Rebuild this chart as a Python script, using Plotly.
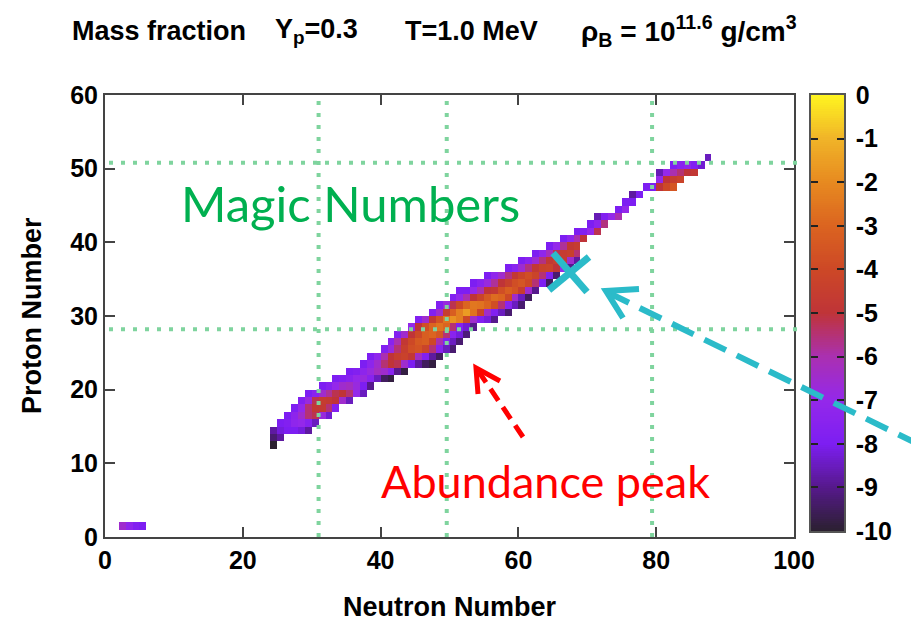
import plotly.graph_objects as go

# ---------------- data (log10 of mass fraction) ----------------
# one entry per proton number Z: first neutron number and values for consecutive N
proton_Z = [1, 12, 13, 14, 15, 16, 17, 18, 19, 20, 21, 22, 23, 24, 25, 26, 27, 28, 29, 30,
            31, 32, 33, 34, 35, 36, 37, 38, 39, 40, 41, 42, 43, 44, 45, 46, 47, 48, 49, 50, 51]
first_N = [2, 24, 24, 24, 25, 26, 27, 28, 29, 31, 33, 35, 37, 38, 40, 41, 42, 44, 45, 47,
           48, 50, 51, 53, 55, 58, 60, 62, 64, 66, 68, 70, 71, 74, 75, 76, 78, 80, 80, 82, 87]
log_X = [
    [-6.5, -7.2, -7.8, -8.0],
    [-10.0],
    [-9.3, -8.8],
    [-8.8, -8.2, -8.0, -8.0, -8.2, -8.8],
    [-8.0, -7.8, -7.2, -7.0, -7.6, -8.5],
    [-8.0, -7.3, -6.5, -5.5, -5.2, -6.8, -8.3],
    [-7.9, -7.0, -5.5, -4.8, -4.7, -5.5, -7.8],
    [-7.8, -6.8, -5.2, -4.6, -4.7, -5.0, -6.5, -8.5],
    [-8.0, -7.5, -6.5, -5.8, -5.2, -5.0, -5.5, -7.0, -8.5],
    [-8.0, -7.6, -7.0, -6.5, -6.3, -6.8, -8.0, -9.0],
    [-8.0, -7.8, -7.5, -7.0, -6.8, -7.5, -8.5, -9.5, -9.8],
    [-8.0, -7.8, -7.3, -6.8, -6.3, -6.5, -7.5, -9.0, -9.8],
    [-8.0, -7.3, -6.5, -5.5, -5.0, -5.2, -6.5, -8.0, -8.8, -9.5, -9.8],
    [-8.0, -7.2, -6.0, -5.0, -4.5, -4.3, -4.8, -6.3, -7.8, -8.8, -9.5],
    [-7.8, -6.8, -5.5, -4.5, -3.8, -3.6, -4.2, -5.5, -7.5, -8.5, -9.3],
    [-7.5, -6.0, -4.8, -4.0, -3.4, -3.2, -4.0, -6.0, -7.8, -8.5, -9.3],
    [-7.8, -6.5, -5.0, -4.0, -3.2, -3.0, -3.5, -5.5, -7.5, -8.2, -9.2],
    [-7.0, -5.0, -3.8, -3.0, -2.6, -3.0, -5.5, -7.8, -8.3, -9.0],
    [-7.8, -6.5, -4.8, -3.6, -2.6, -1.8, -2.3, -4.0, -6.5, -7.8, -8.2, -9.0],
    [-7.8, -6.5, -4.5, -3.2, -2.3, -1.6, -2.6, -4.2, -6.5, -7.8, -8.5, -9.3],
    [-7.8, -6.8, -5.2, -4.0, -3.0, -2.5, -2.6, -3.0, -3.8, -5.5, -7.5, -8.5, -9.3],
    [-7.8, -7.0, -6.0, -5.0, -4.2, -3.4, -2.8, -3.0, -4.0, -6.5, -8.5, -9.5],
    [-8.0, -8.0, -7.0, -6.0, -5.0, -4.8, -3.8, -3.2, -3.6, -4.5, -6.5, -9.0],
    [-8.0, -7.5, -6.8, -5.8, -5.0, -4.4, -3.8, -3.5, -4.0, -5.5, -8.0, -9.5],
    [-8.0, -7.2, -6.5, -5.6, -4.8, -4.2, -3.8, -4.2, -5.5, -7.8, -9.3],
    [-8.0, -7.5, -6.6, -5.6, -4.8, -4.3, -4.2, -5.0, -7.0, -9.0],
    [-8.0, -7.5, -6.6, -5.6, -4.8, -4.4, -4.6, -6.5, -8.8],
    [-8.0, -7.2, -6.2, -5.2, -4.6, -4.4, -5.5],
    [-8.0, -7.0, -5.8, -4.8, -4.6],
    [-8.0, -7.2, -6.0, -5.0],
    [-8.0, -7.8, -7.0, -5.2],
    [-8.0, -7.3, -5.6],
    [-8.6, -7.8, -7.0, -6.0],
    [-8.0, -7.0],
    [-8.0, -8.0],
    [-8.8, -8.0],
    [-8.0, -8.0, -5.0, -4.0, -3.5],
    [-7.0, -5.0, -4.5, -4.2],
    [-8.6, -7.0, -6.0, -5.5, -5.0, -4.8],
    [-8.0, -7.5, -7.2, -7.8, -8.3],
    [-8.5],
]

neutron_ticks = [0, 20, 40, 60, 80, 100]
proton_ticks = [0, 10, 20, 30, 40, 50, 60]
color_ticks = [0, -1, -2, -3, -4, -5, -6, -7, -8, -9, -10]
magic_N_lines = [31.0, 49.6, 79.4]
magic_Z_lines = [28.2, 50.8]

# ---------------- grid ----------------
N_MAX, Z_MAX = 100, 60
grid = [[None] * (N_MAX + 1) for _ in range(Z_MAX)]
for z, n0, vals in zip(proton_Z, first_N, log_X):
    for i, v in enumerate(vals):
        grid[z][n0 + i] = v
x_centers = [n + 0.5 for n in range(N_MAX + 1)]
y_centers = [z + 0.5 for z in range(Z_MAX)]

cscale = [[0.0, "#2b2030"], [0.1, "#56198c"], [0.2, "#7d1ef2"], [0.3, "#9428ea"],
          [0.4, "#aa30b0"], [0.5, "#bf3438"], [0.6, "#cd4826"], [0.7, "#db6420"],
          [0.8, "#e78a20"], [0.9, "#f0b428"], [1.0, "#fff520"]]

colorbar_levels = [-10 + i * 0.05 for i in range(201)]

# ---------------- layout helpers (target pixel -> paper) ----------------
# the page is photographed in a slightly wider viewport and squeezed to 911 px,
# so horizontal layout sizes are stretched by SX to land on the target pixels
TW, H = 911, 625
SX = 926 / 911
W = 926
L = 103 * SX
PW = (891 - 103) * SX
R = W - L - PW
T, B = 95, 88
PH = H - T - B


def PX(px):
    return (px * SX - L) / PW


def PY(py):
    return (H - B - py) / PH


fig = go.Figure()
fig.add_trace(go.Heatmap(x=x_centers, y=y_centers, z=grid, colorscale=cscale,
                         zmin=-10, zmax=0, showscale=False, hoverongaps=False,
                         xaxis="x", yaxis="y"))
fig.add_trace(go.Heatmap(x=[0], y=colorbar_levels, z=[[v] for v in colorbar_levels],
                         colorscale=cscale, zmin=-10, zmax=0, showscale=False,
                         xaxis="x2", yaxis="y2", hoverinfo="skip"))

tickfont = dict(family="Liberation Sans, Arial, sans-serif", size=25, color="black",
                weight="bold")
axis_common = dict(showline=True, linecolor="#444444", linewidth=2, mirror="allticks",
                   ticks="inside", ticklen=10, tickwidth=2, tickcolor="#444444",
                   showgrid=False, zeroline=False, tickfont=tickfont)

fig.update_layout(
    width=W, height=H, autosize=False, margin=dict(l=L, r=R, t=T, b=B, pad=0),
    paper_bgcolor="white", plot_bgcolor="white", showlegend=False,
    xaxis=dict(domain=[0, PX(792)], range=[0, 100], tickvals=neutron_ticks, **axis_common),
    yaxis=dict(domain=[0, 1], range=[0, 60], tickvals=proton_ticks, **axis_common),
    xaxis2=dict(domain=[PX(809), PX(842)], range=[-0.5, 0.5], anchor="y2",
                showticklabels=False, ticks="", showline=True, mirror=True,
                linecolor="#555555", linewidth=1.5, showgrid=False, zeroline=False),
    yaxis2=dict(domain=[PY(531), 1], range=[-10, 0], anchor="x2", side="right",
                tickvals=color_ticks, ticktext=[str(t) for t in color_ticks],
                showline=True, mirror="allticks", linecolor="#555555", linewidth=1.5,
                ticks="inside", ticklen=7, tickwidth=1.5, tickcolor="#222222",
                showgrid=False, zeroline=False, tickfont=tickfont, ticklabelstandoff=5),
)

shapes = []
dot_line = dict(color="#7fd49e", width=4, dash="4px,8px")
for n in magic_N_lines:
    shapes.append(dict(type="line", xref="x", yref="y", x0=n, x1=n, y0=0, y1=60,
                       line=dot_line, layer="above"))
for z in magic_Z_lines:
    shapes.append(dict(type="line", xref="paper", yref="y", x0=PX(107), x1=PX(800),
                       y0=z, y1=z, line=dot_line, layer="above"))

red = "#ff0000"
cyan = "#2bbbc9"
# red dashed arrow
shapes.append(dict(type="line", xref="paper", yref="paper", x0=PX(521), y0=PY(437),
                   x1=PX(477), y1=PY(372), line=dict(color=red, width=5, dash="14px,8px"),
                   layer="above"))
shapes.append(dict(type="path", xref="paper", yref="paper",
                   path=f"M{PX(498)},{PY(381)} L{PX(474)},{PY(368)} L{PX(476)},{PY(394)}",
                   line=dict(color=red, width=5), layer="above"))
# cyan X
shapes.append(dict(type="line", xref="paper", yref="paper", x0=PX(551), y0=PY(253),
                   x1=PX(585), y1=PY(292), line=dict(color=cyan, width=7), layer="above"))
shapes.append(dict(type="line", xref="paper", yref="paper", x0=PX(547), y0=PY(290),
                   x1=PX(587), y1=PY(257), line=dict(color=cyan, width=7), layer="above"))
# cyan dashed arrow
shapes.append(dict(type="line", xref="paper", yref="paper", x0=PX(918), y0=PY(445),
                   x1=PX(607), y1=PY(293), line=dict(color=cyan, width=6, dash="24px,12px"),
                   layer="above"))
shapes.append(dict(type="path", xref="paper", yref="paper",
                   path=f"M{PX(637)},{PY(289)} L{PX(604)},{PY(291)} L{PX(621)},{PY(318)}",
                   line=dict(color=cyan, width=6), layer="above"))
fig.update_layout(shapes=shapes)

bold = dict(family="Liberation Sans, Arial, sans-serif", size=27, color="black", weight="bold")
ann = []
title_parts = [("Mass fraction", 68, 27), ("Y<sub>p</sub>=0.3", 271, 27),
               ("T=1.0 MeV", 401, 27),
               ("ρ<sub>B</sub> = 10<sup>11.6</sup> g/cm<sup>3</sup>", 577, 28)]
for txt, px, fs in title_parts:
    ann.append(dict(text=txt, x=PX(px), y=PY(31), xref="paper", yref="paper",
                    xanchor="left", yanchor="middle", showarrow=False,
                    font=dict(bold, size=fs)))
ann.append(dict(text="Neutron Number", x=PX(447.5), y=PY(607), xref="paper", yref="paper",
                xanchor="center", yanchor="middle", showarrow=False,
                font=dict(bold, size=27)))
ann.append(dict(text="Proton Number", x=PX(30), y=PY(316), xref="paper", yref="paper",
                xanchor="center", yanchor="middle", showarrow=False, textangle=-90,
                font=dict(bold, size=27)))
ann.append(dict(text="Magic Numbers", x=PX(177), y=PY(203), xref="paper", yref="paper",
                xanchor="left", yanchor="middle", showarrow=False,
                font=dict(family="Lato, Open Sans, sans-serif", size=49, color="#00b050")))
ann.append(dict(text="Abundance peak", x=PX(377), y=PY(481), xref="paper", yref="paper",
                xanchor="left", yanchor="middle", showarrow=False,
                font=dict(family="Lato, Open Sans, sans-serif", size=45, color=red)))
fig.update_layout(annotations=ann)

fig.write_html("out.html",
               config={"responsive": False, "displayModeBar": False},
               post_script="document.body.style.margin='0px';"
                           "document.body.style.overflow='hidden';")
